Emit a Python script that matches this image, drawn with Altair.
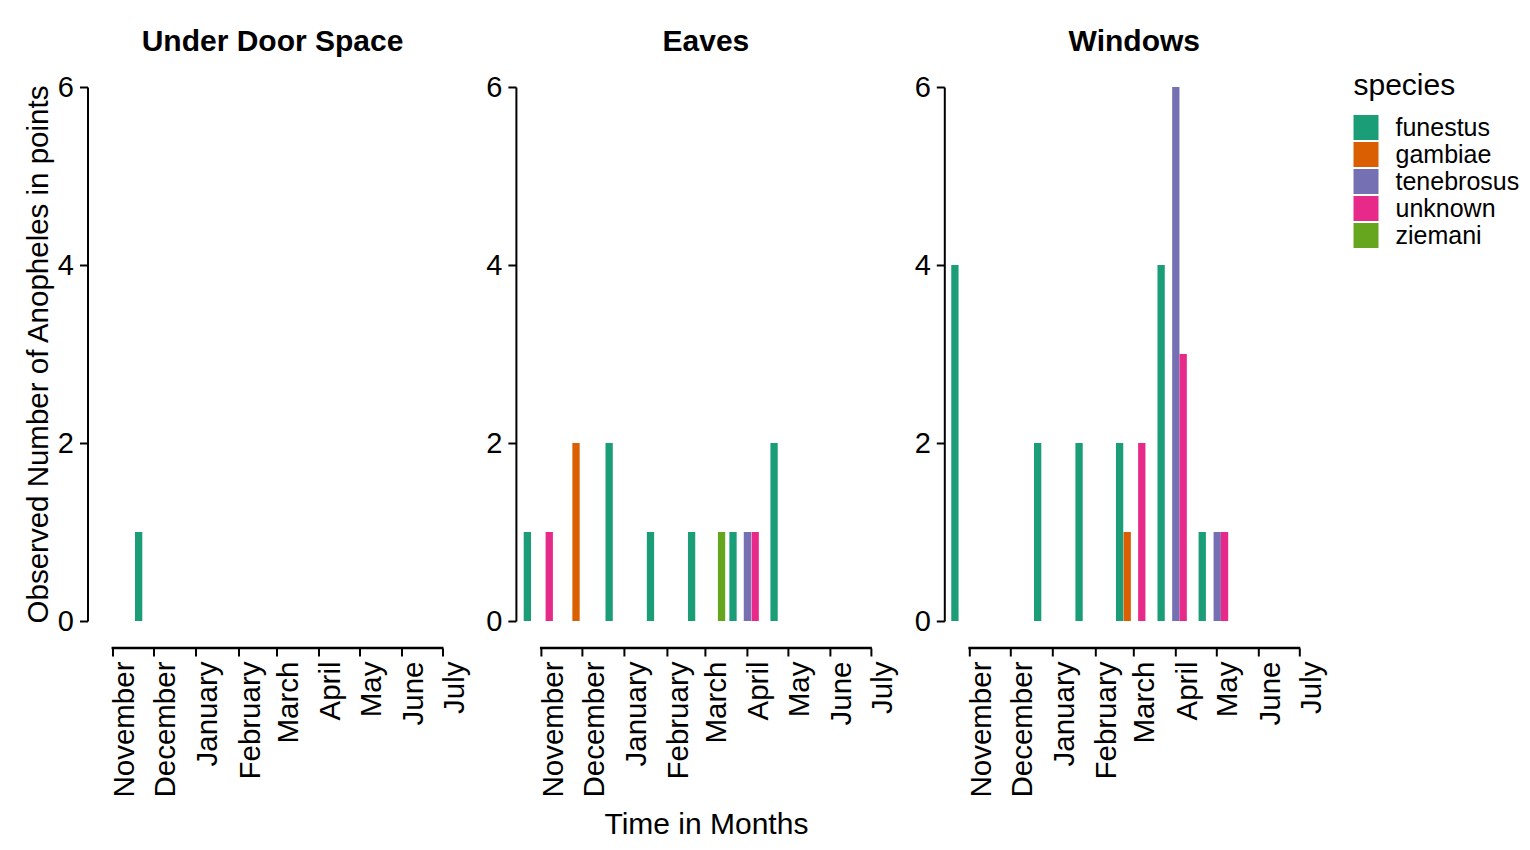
import altair as alt
import pandas as pd

FONT = "Liberation Sans"

species_names = ["funestus", "gambiae", "tenebrosus", "unknown", "ziemani"]
species_colors = ["#1B9E77", "#D95F02", "#7570B3", "#E7298A", "#66A61E"]

# Under Door Space
door_dates = ["2020-11-20T00:00"]
door_species = ["funestus"]
door_counts = [1]

# Eaves
eaves_dates = ["2020-10-21T20:00", "2020-11-06T22:00", "2020-11-26T14:00", "2020-12-20T22:00",
               "2021-01-20T07:00", "2021-02-19T12:00", "2021-03-13T12:00", "2021-03-21T22:00",
               "2021-04-01T12:00", "2021-04-07T05:00", "2021-04-21T02:00"]
eaves_species = ["funestus", "unknown", "gambiae", "funestus",
                 "funestus", "funestus", "ziemani", "funestus",
                 "tenebrosus", "unknown", "funestus"]
eaves_counts = [1, 1, 2, 2, 1, 1, 1, 1, 1, 1, 2]

# Windows
win_dates = ["2020-10-21T05:00", "2020-12-21T00:00", "2021-01-20T10:00", "2021-02-19T05:00",
             "2021-02-24T19:00", "2021-03-07T12:00", "2021-03-21T17:00", "2021-04-01T12:00",
             "2021-04-06T22:00", "2021-04-20T22:00", "2021-05-01T22:00", "2021-05-07T07:00"]
win_species = ["funestus", "funestus", "funestus", "funestus",
               "gambiae", "unknown", "funestus", "tenebrosus",
               "unknown", "funestus", "tenebrosus", "unknown"]
win_counts = [4, 2, 2, 2, 1, 2, 4, 6, 3, 1, 1, 1]

panel_titles = ["Under Door Space", "Eaves", "Windows"]
month_ticks = [(2020, 11), (2020, 12), (2021, 1), (2021, 2), (2021, 3),
               (2021, 4), (2021, 5), (2021, 6), (2021, 7)]
x_start = (2020, 10, 13, 10)
x_end = (2021, 7, 19, 14)
axis_cap = ["2020-11-01T00:00", "2021-07-01T00:00"]
y_ticks = [0, 2, 4, 6]

WIDTH = 380
HEIGHT = 534
X_OFFSET = 27
FS = 29

month_vals = [alt.DateTime(year=y, month=m, date=1) for y, m in month_ticks]
x_scale = alt.Scale(domain=[alt.DateTime(year=x_start[0], month=x_start[1], date=x_start[2], hours=x_start[3]),
                            alt.DateTime(year=x_end[0], month=x_end[1], date=x_end[2], hours=x_end[3])],
                    padding=0)
color_scale = alt.Scale(domain=species_names, range=species_colors)


def panel(dates, species, counts, title, y_title, x_title, title_dx):
    df = pd.DataFrame({"date": dates, "species": species, "count": counts})
    x_axis_kwargs = dict(values=month_vals, format="%B", labelAngle=-90, labelAlign="right",
                         labelBaseline="middle", labelOffset=12, domain=False, tickSize=8,
                         tickWidth=2, tickColor="black", offset=X_OFFSET, grid=False,
                         labelPadding=5, labelFontSize=29.5, labelColor="black", labelFont=FONT,
                         titleFontSize=30, titleFontWeight="normal", titleColor="black",
                         titleFont=FONT, titlePadding=12, labelOverlap=False, labelFlush=False)
    x_axis = alt.Axis(title=x_title, **x_axis_kwargs) if x_title else alt.Axis(title=None, **x_axis_kwargs)
    y_axis_kwargs = dict(values=y_ticks, tickSize=8, tickWidth=2, tickColor="black",
                         domainWidth=2, domainColor="black", grid=False, labelFontSize=FS,
                         labelColor="black", labelFont=FONT, labelPadding=6,
                         titleFontSize=29.5, titleFontWeight="normal", titleColor="black",
                         titleFont=FONT, titlePadding=4)
    y_axis = alt.Axis(title=y_title, **y_axis_kwargs) if y_title else alt.Axis(title=None, **y_axis_kwargs)

    bars = alt.Chart(df).mark_bar(width=7.3).encode(
        x=alt.X("date:T", scale=x_scale, axis=x_axis),
        y=alt.Y("count:Q", scale=alt.Scale(domain=[0, 6], nice=False), axis=y_axis),
        color=alt.Color("species:N", scale=color_scale,
                        legend=alt.Legend(title="species", orient="none", legendX=1266, legendY=-16,
                                          symbolType="square", symbolSize=625, symbolStrokeWidth=0,
                                          labelFontSize=25, labelFont=FONT, labelColor="black",
                                          titleFontSize=30, titleFont=FONT, titleFontWeight="normal",
                                          titleColor="black", labelOffset=17, rowPadding=1,
                                          titlePadding=14)),
    )
    cap_df = pd.DataFrame({"start": [axis_cap[0]], "end": [axis_cap[1]]})
    cap = alt.Chart(cap_df).mark_rule(color="black", strokeWidth=2.5, strokeCap="square").encode(
        x=alt.X("start:T", scale=x_scale),
        x2="end:T",
        y=alt.value(HEIGHT + X_OFFSET),
    )
    return alt.layer(bars, cap).properties(
        width=WIDTH, height=HEIGHT,
        title=alt.TitleParams(title, fontSize=30, fontWeight="bold", font=FONT, color="black",
                              anchor="middle", offset=16, dx=title_dx),
    )


p1 = panel(door_dates, door_species, door_counts, panel_titles[0],
           "Observed Number of Anopheles in points", None, -5)
p2 = panel(eaves_dates, eaves_species, eaves_counts, panel_titles[1], None, "Time in Months", 0)
p3 = panel(win_dates, win_species, win_counts, panel_titles[2], None, None, 0)

chart = alt.hconcat(p1, p2, p3, spacing=48.4, bounds="flush").properties(
    padding={"left": 14.5, "top": 19, "right": 0, "bottom": 5}
).configure(font=FONT).configure_view(stroke=None)

chart.save("out.html", embed_options={"renderer": "svg", "actions": False})
